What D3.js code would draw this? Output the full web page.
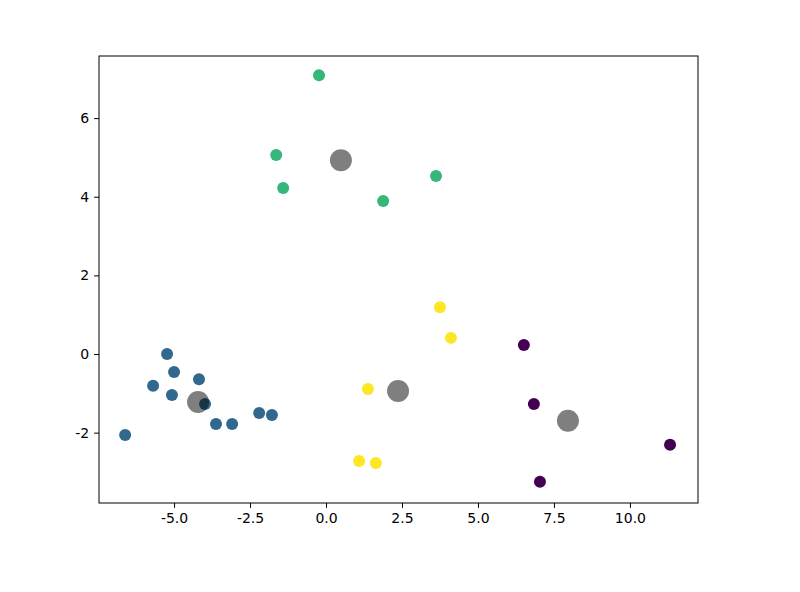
<!DOCTYPE html>
<html><head><meta charset="utf-8">
<script src="https://cdn.jsdelivr.net/npm/d3@7"></script>
<style>body{margin:0;background:#fff}</style></head>
<body><svg id="c" width="800" height="592"></svg>
<script>
const xs = [-0.23,-1.64,-1.41,1.88,3.62, 3.75,4.11,1.38,1.09,1.64, 6.51,6.84,7.04,11.32, -5.23,-5.0,-5.69,-5.07,-4.18,-3.98,-3.62,-3.09,-2.2,-1.78,-6.61];
const ys = [7.09,5.06,4.22,3.89,4.53, 1.19,0.41,-0.89,-2.72,-2.77, 0.23,-1.27,-3.25,-2.31, 0.0,-0.46,-0.81,-1.04,-0.64,-1.27,-1.78,-1.78,-1.5,-1.55,-2.06];
const labels = [2,2,2,2,2, 3,3,3,3,3, 0,0,0,0, 1,1,1,1,1,1,1,1,1,1,1];
const centerX = [0.49,2.37,7.96,-4.21];
const centerY = [4.93,-0.94,-1.70,-1.22];
const xTicks = [-5,-2.5,0,2.5,5,7.5,10];
const yTicks = [-2,0,2,4,6];
const palette = ["#440154","#31688e","#35b779","#fde725"];

const L=99,R=698,T=56,B=503;
const x=d3.scaleLinear().domain([-7.47,12.24]).range([L,R]);
const y=d3.scaleLinear().domain([-3.79,7.58]).range([B,T]);
const svg=d3.select("#c");
const font="DejaVu Sans";
svg.append("g").selectAll("circle").data(xs).join("circle")
 .attr("cx",(d)=>x(d)).attr("cy",(d,i)=>y(ys[i])).attr("r",6)
 .attr("fill",(d,i)=>palette[labels[i]]);
svg.append("g").selectAll("circle").data(centerX).join("circle")
 .attr("cx",d=>x(d)).attr("cy",(d,i)=>y(centerY[i])).attr("r",11)
 .attr("fill","black").attr("fill-opacity",0.5);
const fmt=d=>d.toFixed(1).replace("−","-");
const gx=svg.append("g").attr("transform",`translate(0,${B})`)
 .call(d3.axisBottom(x).tickValues(xTicks).tickFormat(d=>d.toFixed(1)).tickSize(4.9).tickPadding(5));
const gy=svg.append("g").attr("transform",`translate(${L},0)`)
 .call(d3.axisLeft(y).tickValues(yTicks).tickFormat(d=>String(d)).tickSize(4.9).tickPadding(5));
[gx,gy].forEach(g=>{g.select(".domain").remove();g.selectAll("text").attr("font-family",font).attr("font-size",14).attr("fill","#000");g.selectAll("line").attr("stroke","#000");});
svg.append("rect").attr("x",L).attr("y",T).attr("width",R-L).attr("height",B-T).attr("fill","none").attr("stroke","#000").attr("stroke-width",1);
</script></body></html>
